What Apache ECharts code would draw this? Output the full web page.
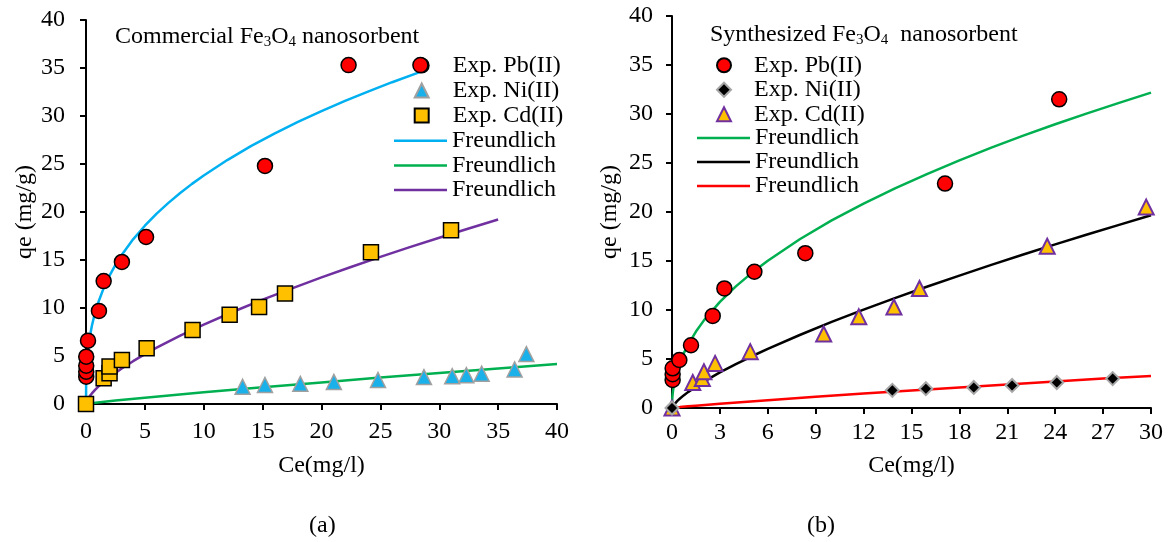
<!DOCTYPE html>
<html>
<head>
<meta charset="utf-8">
<script src="https://cdn.jsdelivr.net/npm/echarts@6/dist/echarts.min.js"></script>
<style>
  html, body { margin: 0; background: #fff; }
  #chart { width: 1169px; height: 542px; }
</style>
</head>
<body>
<div id="chart"></div>
<script>
// ---- data ----
// (a) commercial Fe3O4
const commPbCe = [0.02, 0.02, 0.02, 0.02, 0.17, 1.1, 1.5, 3.05, 5.1, 15.2, 22.3, 28.4];
const commPbQe = [2.84, 3.37, 3.99, 4.93, 6.6, 9.7, 12.8, 14.8, 17.4, 24.8, 35.3, 35.3];
const commNiCe = [13.3, 15.2, 18.2, 21.05, 24.8, 28.7, 31.1, 32.3, 33.6, 36.4, 37.4];
const commNiQe = [1.8, 1.98, 2.1, 2.3, 2.5, 2.8, 2.9, 3.0, 3.16, 3.6, 5.2];
const commCdCe = [0, 1.5, 2.0, 2.0, 3.05, 5.15, 9.05, 12.2, 14.7, 16.9, 24.2, 31.0];
const commCdQe = [0, 2.67, 3.2, 3.9, 4.58, 5.8, 7.7, 9.3, 10.1, 11.5, 15.8, 18.1];
// fitted Freundlich curves (a)
const commPbFitCe = [0, 0.01, 0.05, 0.1, 0.2, 0.35, 0.5, 0.75, 1, 1.5, 2, 2.5, 3, 4, 5, 6, 7, 8, 9, 10, 12, 14, 16, 18, 20, 22, 24, 26, 28.4];
const commPbFitQe = [0, 2.0, 3.57, 4.58, 5.87, 7.17, 8.15, 9.42, 10.44, 12.07, 13.38, 14.49, 15.47, 17.15, 18.57, 19.83, 20.95, 21.98, 22.93, 23.81, 25.41, 26.86, 28.17, 29.38, 30.51, 31.57, 32.57, 33.52, 34.59];
const commNiFitCe = [0, 1, 2.5, 5, 7.5, 10, 15, 20, 25, 30, 35, 40];
const commNiFitQe = [0, 0.16, 0.36, 0.66, 0.94, 1.22, 1.75, 2.25, 2.75, 3.23, 3.70, 4.17];
const commCdFitCe = [0, 0.05, 0.1, 0.2, 0.35, 0.5, 0.75, 1, 1.5, 2, 3, 4, 5, 6, 8, 10, 12.5, 15, 17.5, 20, 22.5, 25, 27.5, 30, 32.5, 35];
const commCdFitQe = [0, 0.23, 0.37, 0.6, 0.87, 1.1, 1.45, 1.76, 2.31, 2.8, 3.68, 4.46, 5.19, 5.87, 7.12, 8.27, 9.61, 10.87, 12.05, 13.19, 14.27, 15.32, 16.34, 17.32, 18.28, 19.22];

// (b) synthesized Fe3O4
const synPbCe = [0.04, 0.04, 0.04, 0.46, 1.19, 2.55, 3.28, 5.16, 8.35, 17.1, 24.25];
const synPbQe = [2.86, 3.44, 4.05, 4.9, 6.4, 9.4, 12.2, 13.9, 15.8, 22.9, 31.5];
const synNiCe = [0, 13.8, 15.9, 18.9, 21.3, 24.1, 27.6];
const synNiQe = [0, 1.8, 1.97, 2.1, 2.3, 2.6, 3.0];
const synCdCe = [0, 1.3, 1.9, 2.0, 2.7, 4.9, 9.5, 11.7, 13.9, 15.5, 23.5, 29.7];
const synCdQe = [0, 2.6, 3.0, 3.7, 4.55, 5.75, 7.55, 9.3, 10.3, 12.2, 16.5, 20.5];
// fitted Freundlich curves (b)
const synPbFitCe = [0, 0.01, 0.03, 0.06, 0.1, 0.2, 0.35, 0.5, 0.75, 1, 1.5, 2, 3, 4, 5, 6, 8, 10, 12, 14, 16, 18, 20, 22, 24, 26, 28, 30];
const synPbFitQe = [0, 0.73, 1.23, 1.7, 2.17, 3.01, 3.92, 4.64, 5.62, 6.44, 7.8, 8.94, 10.83, 12.41, 13.79, 15.03, 17.22, 19.14, 20.86, 22.44, 23.9, 25.27, 26.57, 27.79, 28.95, 30.07, 31.14, 32.18];
const synCdFitCe = [0, 0.05, 0.1, 0.2, 0.35, 0.5, 0.75, 1, 1.5, 2, 3, 4, 5, 6, 8, 10, 12, 14, 16, 18, 20, 22, 24, 26, 28, 30];
const synCdFitQe = [0, 0.18, 0.3, 0.5, 0.75, 0.97, 1.31, 1.62, 2.18, 2.69, 3.63, 4.48, 5.28, 6.04, 7.45, 8.78, 10.04, 11.24, 12.4, 13.51, 14.61, 15.66, 16.7, 17.71, 18.69, 19.67];
const synNiFitCe = [0, 0.5, 1, 1.5, 3, 6, 9, 12, 15, 18, 21, 24, 27, 30];
const synNiFitQe = [0, 0.09, 0.17, 0.24, 0.44, 0.8, 1.14, 1.47, 1.79, 2.1, 2.41, 2.71, 3.0, 3.27];

const markNamesA = ['Exp. Pb(II)|a', 'Exp. Ni(II)|a', 'Exp. Cd(II)|a'];
const lineNamesA = ['Freundlich|a1', 'Freundlich|a2', 'Freundlich|a3'];
const markNamesB = ['Exp. Pb(II)|b', 'Exp. Ni(II)|b', 'Exp. Cd(II)|b'];
const lineNamesB = ['Freundlich|b1', 'Freundlich|b2', 'Freundlich|b3'];

const FONT = '"Liberation Serif", "Times New Roman", serif';
const FS = 24;

function zip(xs, ys) {
  return xs.map((x, i) => [x, ys[i]]);
}

function axis(gridIndex, max, interval, name, nameGap, labelMargin) {
  return {
    type: 'value',
    gridIndex: gridIndex,
    min: 0,
    max: max,
    interval: interval,
    name: name,
    nameLocation: 'middle',
    nameGap: nameGap,
    nameTextStyle: { color: '#000', fontFamily: FONT, fontSize: FS },
    axisLine: { show: true, onZero: false, lineStyle: { color: '#000', width: 2 } },
    axisTick: { show: true, length: 6, lineStyle: { color: '#000', width: 2 } },
    axisLabel: { color: '#000', fontFamily: FONT, fontSize: FS, margin: labelMargin },
    splitLine: { show: false },
  };
}

function scatter(name, idx, data, symbol, size, fill, border, borderWidth) {
  return {
    name: name,
    type: 'scatter',
    xAxisIndex: idx,
    yAxisIndex: idx,
    data: data,
    symbol: symbol,
    symbolSize: size,
    z: 5,
    itemStyle: { color: fill, borderColor: border, borderWidth: borderWidth, opacity: 1 },
  };
}

function curve(name, idx, data, color) {
  return {
    name: name,
    type: 'line',
    xAxisIndex: idx,
    yAxisIndex: idx,
    data: data,
    symbol: 'none',
    showSymbol: false,
    smooth: false,
    z: 2,
    lineStyle: { color: color, width: 2.5 },
    itemStyle: { color: color },
  };
}

// markers and line keys sit in two stacked legends so each icon keeps its shape
function markLegend(left, top, rowH, padLeft, names) {
  return {
    orient: 'vertical', left: left, top: top, padding: 0,
    itemWidth: 14, itemHeight: 14, itemGap: 0,
    selectedMode: false,
    data: names,
    formatter: (n) => n.split('|')[0],
    textStyle: { color: '#000', fontFamily: FONT, fontSize: FS, lineHeight: rowH, padding: [0, 0, 0, padLeft] },
  };
}

function lineLegend(left, top, rowH, names) {
  return {
    orient: 'vertical', left: left, top: top, padding: 0,
    icon: 'rect',
    itemWidth: 53, itemHeight: 2.5, itemGap: 0,
    itemStyle: { borderWidth: 0 },
    selectedMode: false,
    data: names,
    formatter: (n) => n.split('|')[0],
    textStyle: { color: '#000', fontFamily: FONT, fontSize: FS, lineHeight: rowH },
  };
}

const subRich = {
  s: { fontFamily: FONT, fontSize: 15, color: '#000', lineHeight: 10, verticalAlign: 'bottom' },
};

const chart = echarts.init(document.getElementById('chart'));
const option = {
  backgroundColor: '#fff',
  animation: false,
  title: [
    {
      left: 115, top: 24, padding: 0,
      text: 'Commercial Fe{s|3}O{s|4} nanosorbent',
      textStyle: { fontFamily: FONT, fontSize: FS, fontWeight: 'normal', color: '#000', lineHeight: 26, rich: subRich },
    },
    {
      left: 710, top: 22, padding: 0,
      text: 'Synthesized Fe{s|3}O{s|4}  nanosorbent',
      textStyle: { fontFamily: FONT, fontSize: FS, fontWeight: 'normal', color: '#000', lineHeight: 26, rich: subRich },
    },
  ],
  legend: [
    markLegend(413.7, 53, 25, 19, markNamesA),
    lineLegend(394, 128.5, 24.6, lineNamesA),
    markLegend(716, 53, 24.5, 18, markNamesB),
    lineLegend(697, 126, 23.6, lineNamesB),
  ],
  grid: [
    { left: 86, right: 612, top: 20, bottom: 138 },
    { left: 672, right: 18, top: 16, bottom: 134 },
  ],
  xAxis: [axis(0, 40, 5, 'Ce(mg/l)', 50, 16), axis(1, 30, 3, 'Ce(mg/l)', 46, 13)],
  yAxis: [axis(0, 40, 5, 'qe (mg/g)', 49, 21), axis(1, 40, 5, 'qe (mg/g)', 50, 19)],
  graphic: [
    { type: 'text', left: 309, top: 514, style: { text: '(a)', font: FS + 'px ' + FONT, fill: '#000' } },
    { type: 'text', left: 807, top: 514, style: { text: '(b)', font: FS + 'px ' + FONT, fill: '#000' } },
  ],
  series: [
    curve(lineNamesA[0], 0, zip(commPbFitCe, commPbFitQe), '#00B0F0'),
    curve(lineNamesA[1], 0, zip(commNiFitCe, commNiFitQe), '#00B050'),
    curve(lineNamesA[2], 0, zip(commCdFitCe, commCdFitQe), '#7030A0'),
    scatter(markNamesA[0], 0, zip(commPbCe, commPbQe), 'circle', 15, '#FF0000', '#000', 1.5),
    scatter(markNamesA[1], 0, zip(commNiCe, commNiQe), 'triangle', 15, '#1AB0EA', '#A0A0A0', 1.5),
    scatter(markNamesA[2], 0, zip(commCdCe, commCdQe), 'rect', 15, '#FFC000', '#000', 1.5),

    curve(lineNamesB[0], 1, zip(synPbFitCe, synPbFitQe), '#00B050'),
    curve(lineNamesB[1], 1, zip(synCdFitCe, synCdFitQe), '#000000'),
    curve(lineNamesB[2], 1, zip(synNiFitCe, synNiFitQe), '#FF0000'),
    scatter(markNamesB[0], 1, zip(synPbCe, synPbQe), 'circle', 15, '#FF0000', '#000', 1.5),
    scatter(markNamesB[2], 1, zip(synCdCe, synCdQe), 'triangle', 15, '#FFC000', '#7030A0', 2),
    scatter(markNamesB[1], 1, zip(synNiCe, synNiQe), 'diamond', 13, '#000000', '#A6A6A6', 2),
  ],
};
chart.setOption(option);
</script>
</body>
</html>
